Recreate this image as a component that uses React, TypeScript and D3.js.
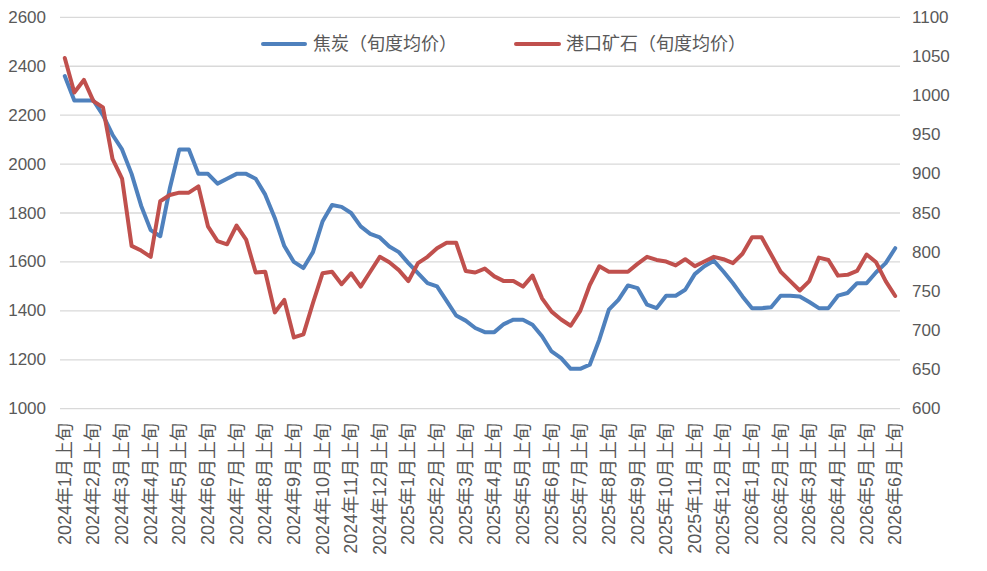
import React from "react";
import * as d3 from "d3";

// 焦炭 / 港口矿石 旬度均价, 2024年1月上旬 - 2026年6月上旬
const years = [2024, 2025, 2026];
const dekads = ["上旬", "中旬", "下旬"];

const categories: string[] = [];
years.forEach((y) => {
  for (let m = 1; m <= 12; m++) {
    dekads.forEach((d) => {
      if (y === 2026 && (m > 6 || (m === 6 && d !== "上旬"))) return;
      categories.push(`${y}年${m}月${d}`);
    });
  }
});

const cokeValues = [
  2360, 2260, 2260, 2260, 2200, 2120, 2060, 1960, 1830, 1730, 1705, 1900,
  2060, 2060, 1960, 1960, 1920, 1940, 1960, 1960, 1940, 1875, 1780, 1665,
  1600, 1575, 1640, 1765, 1833, 1825, 1800, 1745, 1715, 1700, 1663, 1640,
  1595, 1554, 1513, 1500, 1441, 1381, 1360, 1330, 1313, 1313, 1346, 1364,
  1364, 1343, 1296, 1234, 1207, 1163, 1163, 1180, 1282, 1405, 1445, 1504,
  1493, 1425, 1411, 1462, 1462, 1486, 1550, 1582, 1605, 1561, 1513, 1459,
  1411, 1411, 1415, 1462, 1462, 1459, 1436, 1411, 1411, 1462, 1473, 1513,
  1513, 1558, 1595, 1656,
];

const oreValues = [
  1048, 1004, 1020, 993, 985, 919, 894, 808, 802, 794, 865, 873,
  876, 876, 884, 833, 814, 810, 834, 816, 774, 775, 723, 739,
  691, 695, 735, 773, 775, 759, 773, 756, 775, 794, 787, 777,
  763, 786, 794, 805, 812, 812, 776, 774, 779, 769, 763, 763,
  756, 770, 741, 724, 714, 706, 725, 758, 782, 775, 775, 775,
  785, 794, 790, 788, 783, 791, 782, 788, 794, 791, 786, 798,
  819, 819, 797, 775, 763, 751, 763, 793, 790, 770, 771, 776,
  797, 787, 763, 744,
];

const leftTicks = [1000, 1200, 1400, 1600, 1800, 2000, 2200, 2400, 2600];
const rightTicks = [600, 650, 700, 750, 800, 850, 900, 950, 1000, 1050, 1100];

const width = 987;
const height = 571;
const plot = { left: 60, right: 900, top: 17.3, bottom: 408.7 };

const textColor = "#595959";
const gridColor = "#d9d9d9";
const blue = "#4f81bd";
const red = "#c0504d";
const font = "'Liberation Sans', 'Noto Sans CJK SC', sans-serif";

const x = d3
  .scalePoint<string>()
  .domain(categories)
  .range([plot.left, plot.right])
  .padding(0.5);

const yLeft = d3.scaleLinear().domain([1000, 2600]).range([plot.bottom, plot.top]);
const yRight = d3.scaleLinear().domain([600, 1100]).range([plot.bottom, plot.top]);

const cokeLine = d3
  .line<number>()
  .x((_, i) => x(categories[i]) ?? 0)
  .y((d) => yLeft(d));

const oreLine = d3
  .line<number>()
  .x((_, i) => x(categories[i]) ?? 0)
  .y((d) => yRight(d));

const App = () => {
  return (
    <svg
      width={width}
      height={height}
      style={{ position: "absolute", left: 0, top: 0, background: "#fff" }}
      fontFamily={font}
    >
      {leftTicks.map((t) => (
        <g key={t}>
          <line
            x1={plot.left}
            x2={plot.right}
            y1={yLeft(t)}
            y2={yLeft(t)}
            stroke={gridColor}
            strokeWidth={1.3}
          />
          <text
            x={46}
            y={yLeft(t)}
            textAnchor="end"
            dominantBaseline="central"
            fontSize={17}
            fill={textColor}
          >
            {t}
          </text>
        </g>
      ))}

      {rightTicks.map((t) => (
        <text
          key={t}
          x={912}
          y={yRight(t)}
          dominantBaseline="central"
          fontSize={17}
          fill={textColor}
        >
          {t}
        </text>
      ))}

      {categories
        .filter((c) => c.endsWith("上旬"))
        .map((c) => (
          <text
            key={c}
            transform={`translate(${x(c)}, 423) rotate(-90)`}
            textAnchor="end"
            dominantBaseline="central"
            fontSize={18}
            fill={textColor}
          >
            {c}
          </text>
        ))}

      <path
        d={cokeLine(cokeValues) || ""}
        fill="none"
        stroke={blue}
        strokeWidth={4}
        strokeLinejoin="round"
        strokeLinecap="round"
      />
      <path
        d={oreLine(oreValues) || ""}
        fill="none"
        stroke={red}
        strokeWidth={4}
        strokeLinejoin="round"
        strokeLinecap="round"
      />

      {/* legend */}
      <line x1={263} x2={305} y1={44} y2={44} stroke={blue} strokeWidth={4} strokeLinecap="round" />
      <text x={313} y={44} dominantBaseline="central" fontSize={18} fill={textColor}>
        焦炭（旬度均价）
      </text>
      <line x1={516} x2={559} y1={44} y2={44} stroke={red} strokeWidth={4} strokeLinecap="round" />
      <text x={566} y={44} dominantBaseline="central" fontSize={18} fill={textColor}>
        港口矿石（旬度均价）
      </text>
    </svg>
  );
};

export default App;
